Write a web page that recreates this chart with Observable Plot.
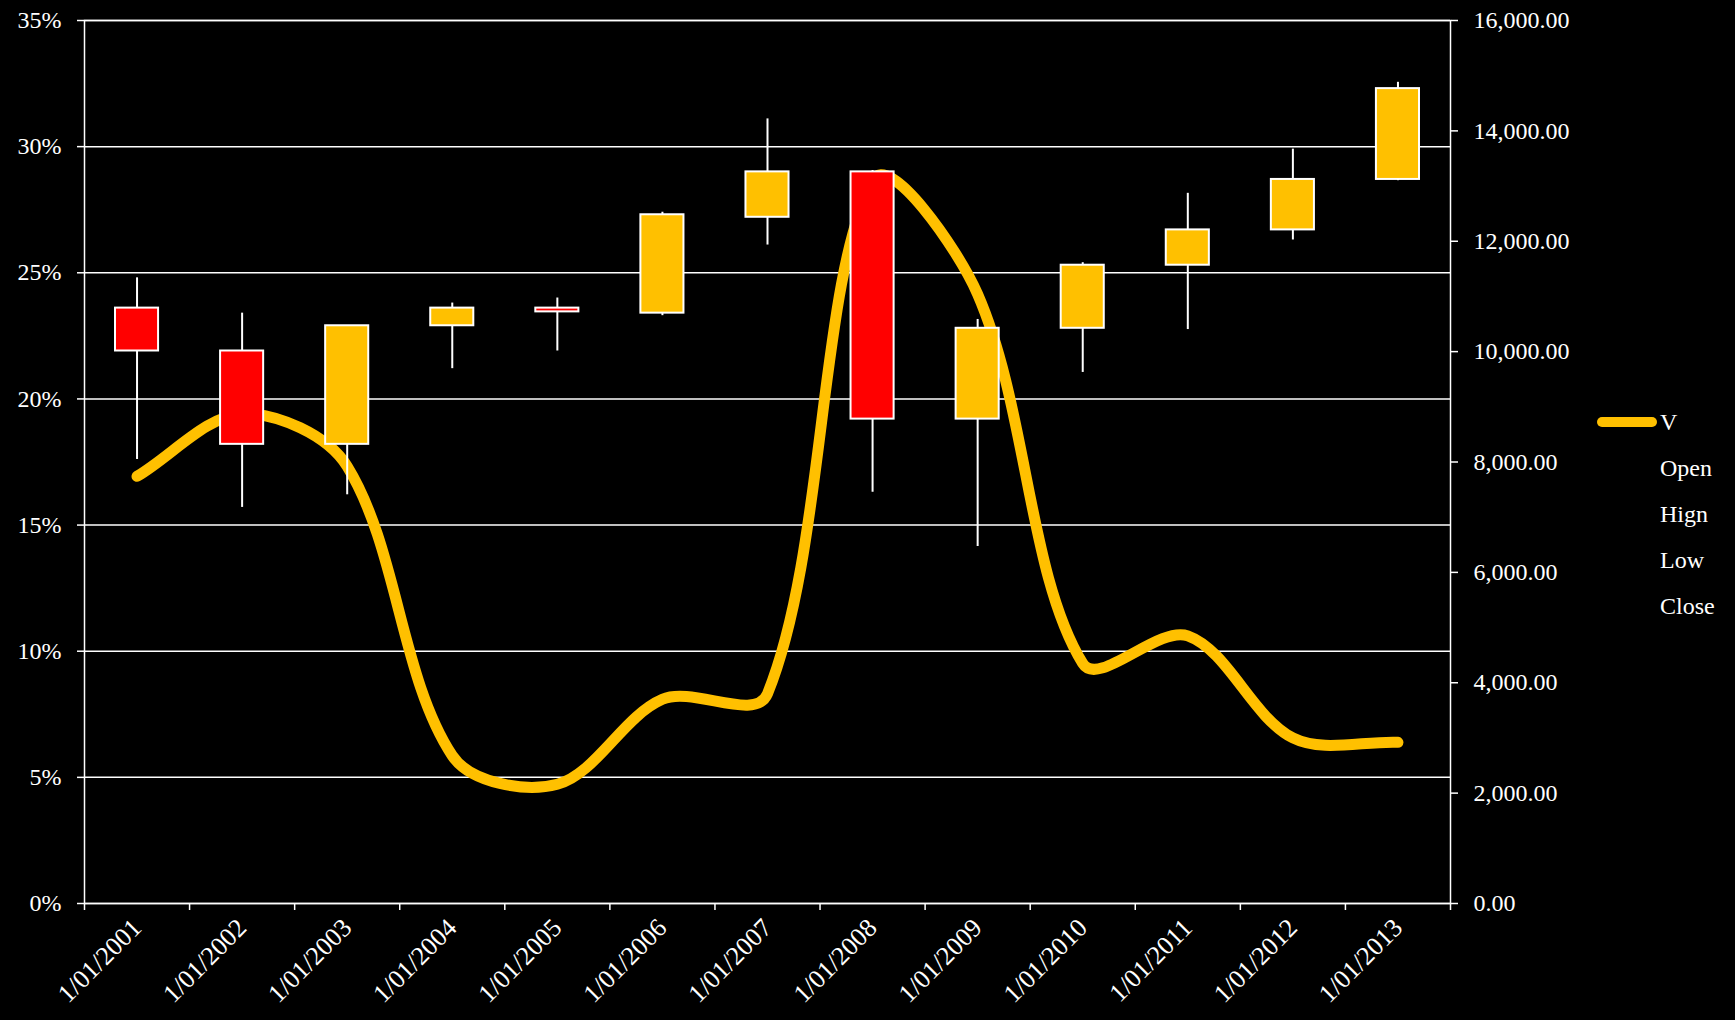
<!DOCTYPE html>
<html><head><meta charset="utf-8">
<script src="https://cdn.jsdelivr.net/npm/d3@7"></script>
<script src="https://cdn.jsdelivr.net/npm/@observablehq/plot@0.6"></script>
<style>
html,body{margin:0;padding:0;background:#000;}
#wrap{position:relative;width:1735px;height:1020px;}
#legend{position:absolute;left:1597px;top:399px;font-family:"Liberation Serif","DejaVu Serif","Times New Roman",serif;font-size:24px;color:#fff;}
#chart svg text{font-family:"Liberation Serif","DejaVu Serif","Times New Roman",serif !important;}
.item{height:46px;display:flex;align-items:center;}
.sw{width:60px;height:10px;border-radius:5px;background:#FFC000;margin-right:3px;}
.sp{width:63px;}
</style></head><body><div id="wrap"><div id="chart"></div><div id="legend"></div></div>
<script>
const dates = ["1/01/2001","1/01/2002","1/01/2003","1/01/2004","1/01/2005","1/01/2006","1/01/2007","1/01/2008","1/01/2009","1/01/2010","1/01/2011","1/01/2012","1/01/2013"];
const openP  = [23.6, 21.9, 18.2, 22.9, 23.6, 23.4, 27.2, 29.0, 19.2, 22.8, 25.3, 26.7, 28.7];
const highP  = [24.8, 23.4, 22.9, 23.8, 24.0, 27.4, 31.1, 29.05, 23.15, 25.4, 28.15, 29.9, 32.55];
const lowP   = [17.6, 15.7, 16.2, 21.2, 21.9, 23.3, 26.1, 16.3, 14.15, 21.05, 22.75, 26.3, 28.65];
const closeP = [21.9, 18.2, 22.9, 23.6, 23.45, 27.3, 29.0, 19.2, 22.8, 25.3, 26.7, 28.7, 32.3];
const vol    = [7740, 8870, 7920, 2680, 2160, 3700, 3800, 13100, 11040, 4350, 4850, 3000, 2920];
const legendNames = ["V","Open","Hign","Low","Close"];
const leftTicks = [0,5,10,15,20,25,30,35];
const rightTicks = [0,2000,4000,6000,8000,10000,12000,14000,16000];
const P_MAX = 35, V_MAX = 16000;

const data = dates.map((d,i)=>({i, date:d, open:openP[i], high:highP[i], low:lowP[i], close:closeP[i], v:vol[i]}));
const vToY = v => v / V_MAX * P_MAX;
const YELLOW = "#FFC000", RED = "#FF0000";
const FONT = "'Liberation Serif','DejaVu Serif','Times New Roman',serif";

// Spreadsheet-style smoothed line: Bezier segments whose control arms scale with chord lengths
function SmoothCurve(context){ this._context = context; }
SmoothCurve.prototype = {
  areaStart(){ this._line = 0; },
  areaEnd(){ this._line = NaN; },
  lineStart(){ this._pts = []; },
  point(x, y){ this._pts.push([+x, +y]); },
  lineEnd(){
    const p = this._pts, c = this._context, n = p.length;
    if (!n) return;
    c.moveTo(p[0][0], p[0][1]);
    const t = 1/6;
    for (let i = 0; i < n - 1; i++) {
      const p0 = p[Math.max(i-1,0)], p1 = p[i], p2 = p[i+1], p3 = p[Math.min(i+2,n-1)];
      const d01 = Math.hypot(p1[0]-p0[0], p1[1]-p0[1]);
      const d12 = Math.hypot(p2[0]-p1[0], p2[1]-p1[1]);
      const d23 = Math.hypot(p3[0]-p2[0], p3[1]-p2[1]);
      const f = (d01+d12) > 0 ? 2*t*d12/(d01+d12) : 0;
      const g = (d12+d23) > 0 ? 2*t*d12/(d12+d23) : 0;
      c.bezierCurveTo(p1[0]+f*(p2[0]-p0[0]), p1[1]+f*(p2[1]-p0[1]),
                      p2[0]-g*(p3[0]-p1[0]), p2[1]-g*(p3[1]-p1[1]),
                      p2[0], p2[1]);
    }
  }
};
const smoothCurve = ctx => new SmoothCurve(ctx);

const plot = Plot.plot({
  width:1735, height:1020,
  marginLeft:84, marginRight:285, marginTop:20, marginBottom:117,
  style:{background:"#000", color:"#fff", fontFamily:FONT, fontSize:"24px"},
  x:{domain:[0,13]},
  y:{domain:[0,P_MAX]},
  marks:[
    Plot.gridY(leftTicks, {stroke:"#fff", strokeOpacity:1, strokeWidth:1.5}),
    Plot.frame({stroke:"#fff", strokeWidth:1.5}),
    Plot.axisY(leftTicks, {anchor:"left", tickFormat:d=>d+"%", tickSize:7, tickPadding:16, strokeWidth:1.5, label:null, fontSize:24}),
    Plot.axisY(rightTicks.map(vToY), {anchor:"right", tickFormat:d=>d3.format(",.2f")(Math.round(d/P_MAX*V_MAX)), tickSize:7, tickPadding:16, strokeWidth:1.5, label:null, fontSize:24}),
    Plot.axisX(d3.range(0,14), {tickSize:7, strokeWidth:1.5, tickFormat:()=>"", label:null}),
    Plot.axisX(data.map(d=>d.i+0.5), {tickSize:0, tickRotate:-45, tickPadding:20, tickFormat:d=>dates[Math.floor(d)], label:null, fontSize:26}),
    Plot.line(data, {x:d=>d.i+0.5, y:d=>vToY(d.v), curve:smoothCurve, stroke:YELLOW, strokeWidth:11, strokeLinecap:"round", strokeLinejoin:"round"}),
    Plot.ruleX(data, {x:d=>d.i+0.5, y1:"low", y2:"high", stroke:"#fff", strokeWidth:2}),
    Plot.rect(data, {x1:d=>d.i, x2:d=>d.i+1, y1:"open", y2:"close", insetLeft:31, insetRight:31,
      fill:d=>d.close>=d.open?YELLOW:RED, stroke:"#fff", strokeWidth:2})
  ]
});
document.getElementById("chart").appendChild(plot);

const lg = document.getElementById("legend");
legendNames.forEach((n,k)=>{
  const row = document.createElement("div"); row.className="item";
  const s = document.createElement("div"); s.className = k===0 ? "sw" : "sp";
  row.appendChild(s);
  const t = document.createElement("span"); t.textContent = n; row.appendChild(t);
  lg.appendChild(row);
});
</script></body></html>
